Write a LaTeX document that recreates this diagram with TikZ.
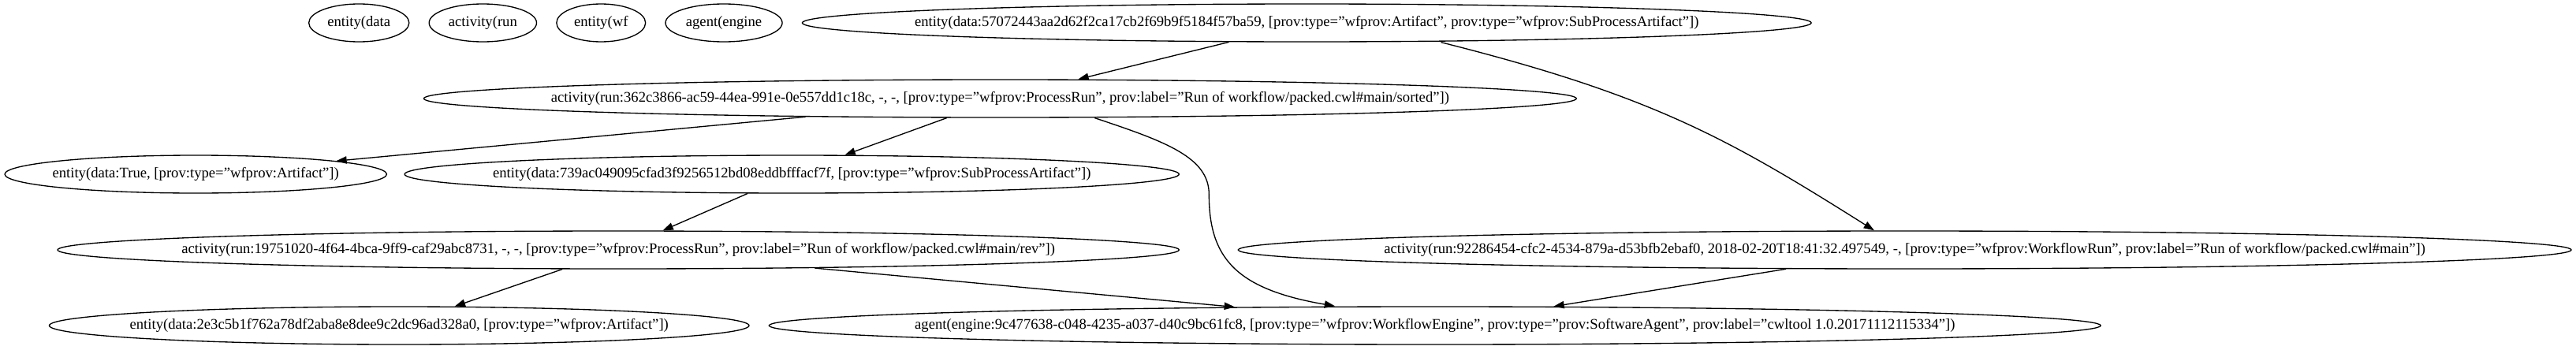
\documentclass[tikz,border=0pt]{standalone}
\usepackage{fontspec}
\setmainfont{Liberation Serif}
\usetikzlibrary{arrows.meta,calc,shapes.geometric}
\newcommand\gvfont{\fontsize{14pt}{16.8pt}\selectfont}
% label texts
\newcommand\tNone{entity(data}
\newcommand\tNtwo{activity(run}
\newcommand\tNthree{entity(wf}
\newcommand\tNfour{agent(engine}
\newcommand\tEone{entity(data:57072443aa2d62f2ca17cb2f69b9f5184f57ba59, [prov:type="wfprov:Artifact", prov:type="wfprov:SubProcessArtifact"])}
\newcommand\tAone{activity(run:362c3866-ac59-44ea-991e-0e557dd1c18c, -, -, [prov:type="wfprov:ProcessRun", prov:label="Run of workflow/packed.cwl\#main/sorted"])}
\newcommand\tEtwo{entity(data:True, [prov:type="wfprov:Artifact"])}
\newcommand\tEthree{entity(data:739ac049095cfad3f9256512bd08eddbfffacf7f, [prov:type="wfprov:SubProcessArtifact"])}
\newcommand\tAtwo{activity(run:19751020-4f64-4bca-9ff9-caf29abc8731, -, -, [prov:type="wfprov:ProcessRun", prov:label="Run of workflow/packed.cwl\#main/rev"])}
\newcommand\tAthree{activity(run:92286454-cfc2-4534-879a-d53bfb2ebaf0, 2018-02-20T18:41:32.497549, -, [prov:type="wfprov:WorkflowRun", prov:label="Run of workflow/packed.cwl\#main"])}
\newcommand\tEfour{entity(data:2e3c5b1f762a78df2aba8e8dee9c2dc96ad328a0, [prov:type="wfprov:Artifact"])}
\newcommand\tAG{agent(engine:9c477638-c048-4235-a037-d40c9bc61fc8, [prov:type="wfprov:WorkflowEngine", prov:type="prov:SoftwareAgent", prov:label="cwltool 1.0.20171112115334"])}
% measure a label and store the ellipse width (graphviz-like sizing)
\newcommand\gvmeasure[2]{%
  \setbox0\hbox{\gvfont #2}%
  \pgfmathsetlengthmacro\gvtmp{max(54pt,1.26*(\the\wd0+15.84pt))}%
  \expandafter\let\csname gvW#1\endcsname\gvtmp}
% #1 placement options, #2 name, #3 position, #4 text
\newcommand\gvnode[4]{%
  \node[gvell, minimum width=\csname gvW#2\endcsname, #1] (#2) at #3 {\makebox[0pt]{#4}};}
\begin{document}
\gvmeasure{n1}{\tNone}\gvmeasure{n2}{\tNtwo}\gvmeasure{n3}{\tNthree}\gvmeasure{n4}{\tNfour}%
\gvmeasure{E1}{\tEone}\gvmeasure{A1}{\tAone}\gvmeasure{E2}{\tEtwo}\gvmeasure{E3}{\tEthree}%
\gvmeasure{A2}{\tAtwo}\gvmeasure{A3}{\tAthree}\gvmeasure{E4}{\tEfour}\gvmeasure{AG}{\tAG}%
\begin{tikzpicture}[x=1pt,y=-1pt,
  gvell/.style={ellipse, draw, line width=1pt, inner sep=0pt, minimum height=36pt, font=\gvfont},
  gvedge/.style={line width=1pt, -{Triangle[length=10pt,width=7pt]}}]
\fill[white] (0,0) rectangle (2450.25,332.25);
\useasboundingbox (0,0) rectangle (2450.25,332.25);
% rank 0
\gvnode{anchor=west}{n1}{(293.25,21.75)}{\tNone}
\gvnode{anchor=west,xshift=18pt}{n2}{(n1.east)}{\tNtwo}
\gvnode{anchor=west,xshift=18pt}{n3}{(n2.east)}{\tNthree}
\gvnode{anchor=west,xshift=18pt}{n4}{(n3.east)}{\tNfour}
\gvnode{anchor=west,xshift=18pt}{E1}{(n4.east)}{\tEone}
% rank 1
\gvnode{anchor=east}{A1}{(1500,93.75)}{\tAone}
% rank 2
\gvnode{anchor=west}{E2}{(4,165.75)}{\tEtwo}
\gvnode{anchor=east}{E3}{(1122,165.75)}{\tEthree}
% rank 3
\gvnode{anchor=east}{A2}{(1122,237.75)}{\tAtwo}
\gvnode{anchor=east}{A3}{(2446.25,237.75)}{\tAthree}
% rank 4
\gvnode{anchor=east}{E4}{(713,309.75)}{\tEfour}
\gvnode{anchor=west}{AG}{(731,309.75)}{\tAG}
% edges
\draw[gvedge] (E1) -- (A1);
\draw[gvedge] ([xshift=127.7pt]E1.south) .. controls (1572.7,91) and (1644.5,132.2) .. ([xshift=-29pt]A3.north);
\draw[gvedge] (A1) -- (E2);
\draw[gvedge] (A1) -- (E3);
\draw[gvedge] ([xshift=90pt]A1.south) .. controls (1110,135) and (1150,150) .. (1150,185) .. controls (1150,245) and (1175,275) .. ([xshift=-95pt]AG.north);
\draw[gvedge] (E3) -- (A2);
\draw[gvedge] (A2) -- (E4);
\draw[gvedge] (A2) -- (AG);
\draw[gvedge] (A3) -- (AG);
\end{tikzpicture}
\end{document}
